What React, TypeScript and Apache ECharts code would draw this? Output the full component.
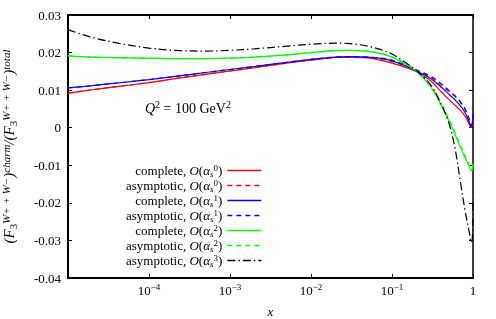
import React, { useEffect, useRef } from "react";
import * as echarts from "echarts";

const xs = [1e-5, 2e-5, 5e-5, 1e-4, 2e-4, 5e-4, 1e-3, 2e-3, 5e-3, 1e-2, 2e-2, 3e-2, 5e-2, 0.07, 0.1, 0.15, 0.2, 0.3, 0.4, 0.5, 0.6, 0.7, 0.8, 0.9, 0.95, 0.98, 1];

const completeO0 = [0.0092, 0.0101, 0.0112, 0.0120, 0.0130, 0.0142, 0.0151, 0.0160, 0.0172, 0.0180, 0.0187, 0.0188, 0.0186, 0.0180, 0.0172, 0.0160, 0.0149, 0.0125, 0.0097, 0.0076, 0.0060, 0.0046, 0.0030, 0.0009, 0.0000, 0.0010, 0.0040];
const asymptoticO0 = [0.0092, 0.0101, 0.0112, 0.0120, 0.0130, 0.0142, 0.0151, 0.0160, 0.0172, 0.0180, 0.0187, 0.0188, 0.0187, 0.0182, 0.0176, 0.0163, 0.0152, 0.0134, 0.0114, 0.0097, 0.0083, 0.0067, 0.0048, 0.0021, 0.0003, 0.0012, 0.0040];
const completeO1 = [0.0106, 0.0112, 0.0121, 0.0128, 0.0136, 0.0147, 0.0155, 0.0163, 0.0174, 0.0182, 0.0188, 0.0189, 0.0188, 0.0185, 0.0178, 0.0164, 0.0151, 0.0131, 0.0109, 0.0090, 0.0074, 0.0058, 0.0040, 0.0015, 0.0002, 0.0012, 0.0040];
const asymptoticO1 = [0.0106, 0.0112, 0.0121, 0.0128, 0.0136, 0.0147, 0.0155, 0.0163, 0.0174, 0.0182, 0.0188, 0.0189, 0.0188, 0.0186, 0.0180, 0.0166, 0.0154, 0.0137, 0.0118, 0.0100, 0.0085, 0.0069, 0.0050, 0.0022, 0.0004, 0.0013, 0.0040];
const completeO2 = [0.0191, 0.0188, 0.0186, 0.0185, 0.0184, 0.0184, 0.0185, 0.0188, 0.0194, 0.0200, 0.0205, 0.0206, 0.0203, 0.0198, 0.0188, 0.0168, 0.0150, 0.0109, 0.0062, 0.0020, -0.0018, -0.0052, -0.0080, -0.0102, -0.0115, -0.0112, -0.0095];
const asymptoticO2 = [0.0191, 0.0188, 0.0186, 0.0185, 0.0184, 0.0184, 0.0185, 0.0188, 0.0194, 0.0200, 0.0205, 0.0206, 0.0204, 0.0199, 0.0189, 0.0170, 0.0152, 0.0112, 0.0066, 0.0025, -0.0013, -0.0047, -0.0076, -0.0099, -0.0112, -0.0110, -0.0093];
const asymptoticO3 = [0.0261, 0.0240, 0.0222, 0.0212, 0.0206, 0.0204, 0.0206, 0.0210, 0.0217, 0.0222, 0.0225, 0.0224, 0.0217, 0.0209, 0.0196, 0.0172, 0.0152, 0.0114, 0.0065, 0.0015, -0.0055, -0.0145, -0.0222, -0.0278, -0.0305, -0.0295, -0.0190];

const seriesKinds = ["complete", "asymptotic", "complete", "asymptotic", "complete", "asymptotic", "asymptotic"];
const seriesOrders = [0, 0, 1, 1, 2, 2, 3];
const seriesValues = [completeO0, asymptoticO0, completeO1, asymptoticO1, completeO2, asymptoticO2, asymptoticO3];
const seriesColors = ["#ff0000", "#ff0000", "#0000ff", "#0000ff", "#00ff00", "#00ff00", "#000000"];
const seriesDash: any[] = ["solid", [5, 4], "solid", [5, 4], "solid", [5, 4], [8, 3, 1.5, 3]];

const yTicks = [-0.04, -0.03, -0.02, -0.01, 0, 0.01, 0.02, 0.03];
const xMin = 1e-5;
const xMax = 1;

const FONT = "Liberation Serif";

const seriesName = (i: number) => `${seriesKinds[i]}, O(αs${seriesOrders[i]})`;

export default function App() {
  const ref = useRef<HTMLDivElement>(null);
  useEffect(() => {
    if (!ref.current) return;
    const chart = echarts.init(ref.current, undefined, { renderer: "svg" });
    const richBase = {
      t: { fontFamily: FONT, fontSize: 13, lineHeight: 15, color: "#000" },
      i: { fontFamily: FONT, fontSize: 13, lineHeight: 15, fontStyle: "italic", color: "#000" },
      sub: { fontFamily: FONT, fontSize: 9, lineHeight: 9, fontStyle: "italic", verticalAlign: "bottom", color: "#000" },
      sup: { fontFamily: FONT, fontSize: 9, lineHeight: 9, verticalAlign: "top", color: "#000" },
    };
    const series = seriesValues.map((vals, i) => ({
      name: seriesName(i),
      type: "line",
      data: xs.map((x, j) => [x, vals[j]]),
      showSymbol: false,
      symbol: "none",
      smooth: 0.35,
      lineStyle: { color: seriesColors[i], width: 1.2, type: seriesDash[i] },
      itemStyle: { color: seriesColors[i] },
      z: 2 + i,
    }));
    const axisLine = { show: true, onZero: false, lineStyle: { color: "#000", width: 2 } };
    const tickStyle = { show: true, inside: true, length: 4, lineStyle: { color: "#000", width: 1 } };
    chart.setOption({
      animation: false,
      grid: { left: 68, right: 23, top: 15, bottom: 41, outerBoundsMode: "none", containLabel: false },
      legend: {
        orient: "vertical",
        align: "right",
        right: 234,
        top: 163,
        padding: 0,
        itemGap: 0,
        itemWidth: 34,
        itemHeight: 10,
        itemStyle: { opacity: 0 },
        lineStyle: { width: 1.3, color: "inherit", type: "inherit", opacity: "inherit" },
        data: seriesValues.map((_, i) => seriesName(i)),
        formatter: (name: string) => {
          const i = seriesValues.findIndex((_, k) => seriesName(k) === name);
          return `{t|${seriesKinds[i]}, }{i|O}{t|(}{i|α}{sub|s}{sup|${seriesOrders[i]}}{t|)}`;
        },
        textStyle: { fontFamily: FONT, fontSize: 13, color: "#000", rich: richBase },
      },
      xAxis: [
        {
          type: "log",
          logBase: 10,
          min: xMin,
          max: xMax,
          position: "bottom",
          axisLine,
          axisTick: tickStyle,
          splitLine: { show: false },
          axisLabel: {
            margin: 4,
            formatter: (v: number) => {
              const n = Math.round(Math.log10(v));
              if (n === 0) return "{t|1}";
              if (n === -5) return "";
              return `{t|10}{sup|${n < 0 ? "−" : ""}${Math.abs(n)}}`;
            },
            rich: {
              t: { fontFamily: FONT, fontSize: 13, lineHeight: 16, color: "#000" },
              sup: { fontFamily: FONT, fontSize: 9, lineHeight: 10, verticalAlign: "top", color: "#000" },
            },
          },
          name: "x",
          nameLocation: "middle",
          nameGap: 27,
          nameTextStyle: { fontFamily: FONT, fontSize: 13, fontStyle: "italic", color: "#000" },
        },
        {
          type: "log",
          logBase: 10,
          min: xMin,
          max: xMax,
          position: "top",
          axisLine,
          axisTick: tickStyle,
          axisLabel: { show: false },
          splitLine: { show: false },
        },
      ],
      yAxis: [
        {
          type: "value",
          min: yTicks[0],
          max: yTicks[yTicks.length - 1],
          interval: 0.01,
          position: "left",
          axisLine,
          axisTick: tickStyle,
          splitLine: { show: false },
          axisLabel: {
            margin: 7,
            fontFamily: FONT,
            fontSize: 13,
            color: "#000",
            formatter: (v: number) => String(Math.round(v * 100) / 100),
          },
          name: "{i|(F}{sub|3}{sup|W+ + W−}{i|)}{sup|charm}{i|/(F}{sub|3}{sup|W+ + W−}{i|)}{sup|total}",
          nameLocation: "middle",
          nameGap: 50,
          nameTextStyle: {
            fontFamily: FONT,
            fontSize: 15,
            color: "#000",
            rich: {
              i: { fontFamily: FONT, fontSize: 15, lineHeight: 18, fontStyle: "italic", color: "#000" },
              sub: { fontFamily: FONT, fontSize: 11, lineHeight: 12, verticalAlign: "bottom", color: "#000" },
              sup: { fontFamily: FONT, fontSize: 11, lineHeight: 12, fontStyle: "italic", verticalAlign: "top", color: "#000" },
            },
          },
        },
        {
          type: "value",
          min: yTicks[0],
          max: yTicks[yTicks.length - 1],
          interval: 0.01,
          position: "right",
          axisLine: { show: true, onZero: false, lineStyle: { color: "#000", width: 1.5 } },
          axisTick: tickStyle,
          axisLabel: { show: false },
          splitLine: { show: false },
        },
      ],
      graphic: [
        {
          type: "text",
          left: 145,
          top: 99,
          style: {
            text: "{i|Q}{sup|2}{t| = 100 GeV}{sup|2}",
            rich: {
              t: { fontFamily: FONT, fontSize: 14, lineHeight: 18, color: "#000" },
              i: { fontFamily: FONT, fontSize: 14, lineHeight: 18, fontStyle: "italic", color: "#000" },
              sup: { fontFamily: FONT, fontSize: 10, lineHeight: 11, verticalAlign: "top", color: "#000" },
            },
          },
        },
      ],
      series,
    });
    return () => chart.dispose();
  }, []);
  return <div ref={ref} style={{ position: "fixed", left: 0, top: 0, width: 496, height: 319 }} />;
}
